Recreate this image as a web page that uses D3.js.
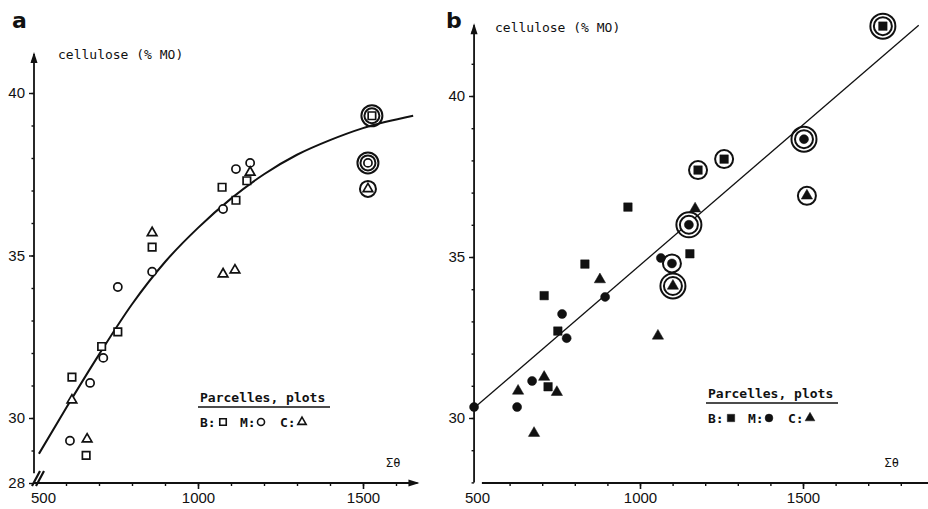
<!DOCTYPE html>
<html>
<head>
<meta charset="utf-8">
<script src="https://cdn.jsdelivr.net/npm/d3@7"></script>
<style>
  body { margin: 0; background: #fff; }
  text { fill: #111; }
  .tick text { font-family: "Liberation Sans Narrow", "Liberation Sans", sans-serif; font-size: 15px; }
  .mono { font-family: "DejaVu Sans Mono", monospace; font-size: 13px; }
</style>
</head>
<body>
<div class="canvas"></div>
<script>
// [sum theta, cellulose %, number of rings drawn round the point]
// panel a : open symbols
const aPlotB = [[1527, 39.3, 2], [1148, 37.3, 0], [1073, 37.1, 0], [1115, 36.7, 0], [861, 35.26, 0],
                [757, 32.65, 0], [708, 32.2, 0], [618, 31.26, 0], [661, 28.85, 0]]
const aPlotM = [[1515, 37.85, 2], [1115, 37.66, 0], [1158, 37.85, 0], [1076, 36.43, 0], [861, 34.5, 0],
                [757, 34.03, 0], [713, 31.85, 0], [673, 31.08, 0], [612, 29.3, 0]]
const aPlotC = [[1515, 37.05, 1], [1158, 37.56, 0], [861, 35.7, 0], [1076, 34.43, 0], [1112, 34.55, 0],
                [618, 30.55, 0], [664, 29.35, 0]]
// fitted curve of panel a
const aCurveX = [518, 600, 700, 800, 900, 1000, 1100, 1200, 1300, 1400, 1500, 1652]
const aCurveY = [28.9, 30.3, 31.95, 33.5, 34.8, 35.85, 36.75, 37.5, 38.1, 38.55, 38.92, 39.3]

// panel b : filled symbols
const bPlotB = [[1745, 42.17, 2], [1178, 37.7, 1], [1258, 38.04, 1], [963, 36.55, 0], [1153, 35.1, 0],
                [831, 34.78, 0], [706, 33.8, 0], [748, 32.7, 0], [718, 30.97, 0]]
const bPlotM = [[1503, 38.66, 2], [1150, 36.0, 2], [1098, 34.8, 1], [1064, 34.97, 0], [893, 33.76, 0],
                [761, 33.23, 0], [775, 32.48, 0], [669, 31.15, 0], [491, 30.34, 0], [623, 30.34, 0]]
const bPlotC = [[1512, 36.9, 1], [1101, 34.1, 2], [1169, 36.5, 0], [877, 34.3, 0], [1055, 32.55, 0],
                [706, 31.27, 0], [626, 30.84, 0], [745, 30.8, 0], [675, 29.53, 0]]
// regression line of panel b
const bLineX = [490, 1855]
const bLineY = [30.3, 42.2]

const yMajorA = [28, 30, 35, 40]
const yMajorB = [30, 35, 40]
const xMajor = [500, 1000, 1500]

const svg = d3.select('.canvas').append('svg')
    .attr('width', 928)
    .attr('height', 509)

svg.append('rect').attr('width', 928).attr('height', 509).attr('fill', '#fff')

const xA = d3.scaleLinear().domain([500, 1500]).range([33, 363])
const yA = d3.scaleLinear().domain([28, 40]).range([483, 93])
const xB = d3.scaleLinear().domain([500, 1500]).range([477, 803])
const yB = d3.scaleLinear().domain([30, 40]).range([418, 96])

function arrowUp(g, x, y) {
    g.append('path').attr('d', `M${x},${y} L${x - 3.5},${y + 11} L${x + 3.5},${y + 11} Z`).attr('fill', '#111')
}
function arrowRight(g, x, y) {
    g.append('path').attr('d', `M${x},${y} L${x - 11},${y - 3.5} L${x - 11},${y + 3.5} Z`).attr('fill', '#111')
}

function drawAxes(x, y, opt) {
    const g = svg.append('g')
    const ax = opt.yAxisX

    // y axis line + arrow
    g.append('line')
        .attr('x1', ax).attr('x2', ax)
        .attr('y1', y(opt.yLow)).attr('y2', y(opt.yTop))
        .attr('stroke', '#111').attr('stroke-width', 1.8)
    arrowUp(g, ax, y(opt.yTop) - 2)

    // y ticks
    const yMinor = d3.range(Math.ceil(opt.yLow), Math.floor(opt.yTop) + 1)
    g.append('g')
        .attr('transform', `translate(${ax},0)`)
        .call(d3.axisLeft(y).tickValues(yMinor).tickSize(2.5).tickFormat(''))
        .call((s) => s.select('.domain').remove())
        .selectAll('line').attr('stroke', '#111').attr('stroke-width', 1.4)
    g.append('g')
        .attr('transform', `translate(${ax},0)`)
        .call(d3.axisLeft(y).tickValues(opt.yMajor).tickSize(5).tickPadding(4).tickFormat(d3.format('d')))
        .call((s) => s.select('.domain').remove())
        .call((s) => s.selectAll('line').attr('stroke', '#111').attr('stroke-width', 1.4))

    // x axis
    const ay = opt.xAxisY
    g.append('line')
        .attr('x1', x(opt.xLow)).attr('x2', x(opt.xTop))
        .attr('y1', ay).attr('y2', ay)
        .attr('stroke', '#111').attr('stroke-width', 1.8)
    if (opt.xArrow) arrowRight(g, x(opt.xTop) + 2, ay)

    const xMinor = d3.range(600, opt.xTop, 100)
    g.append('g')
        .attr('transform', `translate(0,${ay})`)
        .call(d3.axisBottom(x).tickValues(xMinor).tickSize(3).tickFormat(''))
        .call((s) => s.select('.domain').remove())
        .selectAll('line').attr('stroke', '#111').attr('stroke-width', 1.4)
    const xa = g.append('g')
        .attr('transform', `translate(0,${ay})`)
        .call(d3.axisBottom(x).tickValues(xMajor).tickSize(6).tickPadding(3).tickFormat(d3.format('d')))
        .call((s) => s.select('.domain').remove())
        .call((s) => s.selectAll('line').attr('stroke', '#111').attr('stroke-width', 1.6))
    xa.selectAll('.tick').filter((d) => d === 500).select('line').remove()
    xa.selectAll('.tick').filter((d) => d === 500).select('text').attr('dx', opt.x500dx)

    // labels
    g.append('text').attr('class', 'mono')
        .attr('x', opt.titleX).attr('y', opt.titleY)
        .text('cellulose (% MO)')
    g.append('text').attr('class', 'mono')
        .attr('x', opt.sigmaX).attr('y', ay - 16)
        .style('font-size', '12px')
        .text('Σθ')
    g.append('text')
        .attr('x', opt.letterX).attr('y', 28)
        .style('font-family', '"DejaVu Sans", sans-serif')
        .style('font-weight', 900).style('font-size', '22px')
        .text(opt.letter)
    return g
}

function drawPoints(g, data, x, y, type, filled, size, rings) {
    const sym = d3.symbol().type(type).size(size)
    const pts = g.append('g').selectAll('g')
        .data(data)
        .enter()
        .append('g')
        .attr('transform', (d) => `translate(${x(d[0])},${y(d[1])})`)
    pts.filter((d) => d[2] > 0).append('circle')
        .attr('r', rings[0]).attr('fill', '#fff').attr('stroke', '#111').attr('stroke-width', 2)
    pts.filter((d) => d[2] > 1).append('circle')
        .attr('r', rings[1]).attr('fill', 'none').attr('stroke', '#111').attr('stroke-width', 2)
    pts.append('path')
        .attr('d', sym)
        .attr('fill', filled ? '#111' : '#fff')
        .attr('stroke', '#111')
        .attr('stroke-width', filled ? 0.5 : 1.7)
}

function drawLegend(g, x0, y0, filled, sizes) {
    g.append('text').attr('class', 'mono')
        .attr('x', x0).attr('y', y0)
        .style('font-weight', 'bold')
        .text('Parcelles, plots')
    g.append('line')
        .attr('x1', x0 - 2).attr('x2', x0 + 130)
        .attr('y1', y0 + 5).attr('y2', y0 + 5)
        .attr('stroke', '#111').attr('stroke-width', 1.4)
    const keys = [['B:', d3.symbolSquare, sizes[0], 23], ['M:', d3.symbolCircle, sizes[1], 21], ['C:', d3.symbolTriangle, sizes[2], 22]]
    keys.forEach((k, i) => {
        const lx = x0 + i * 40
        g.append('text').attr('class', 'mono')
            .attr('x', lx).attr('y', y0 + 25)
            .style('font-weight', 'bold')
            .text(k[0])
        g.append('path')
            .attr('transform', `translate(${lx + k[3]},${y0 + 20})`)
            .attr('d', d3.symbol().type(k[1]).size(k[2] * 0.75))
            .attr('fill', filled ? '#111' : '#fff')
            .attr('stroke', '#111')
            .attr('stroke-width', filled ? 0.5 : 1.6)
    })
}

// ---- panel a
const ga = drawAxes(xA, yA, {
    yAxisX: xA(500) + 1, yLow: 28.3, yTop: 41.2, yMajor: yMajorA,
    xAxisY: yA(28), xLow: 500, xTop: 1665, xArrow: true, x500dx: 10,
    titleX: 58, titleY: 59, sigmaX: xA(1570), letterX: 12, letter: 'a'
})
// axis break
ga.append('path')
    .attr('d', `M${xA(500) - 1},${yA(28) + 3} L${xA(500) + 7},${yA(28) - 12} M${xA(500) + 3},${yA(28) + 3} L${xA(500) + 11},${yA(28) - 12}`)
    .attr('stroke', '#111').attr('stroke-width', 2.2).attr('fill', 'none')

ga.append('path')
    .datum(d3.zip(aCurveX, aCurveY))
    .attr('d', d3.line().x((d) => xA(d[0])).y((d) => yA(d[1])).curve(d3.curveMonotoneX))
    .attr('fill', 'none').attr('stroke', '#111').attr('stroke-width', 2)

drawPoints(ga, aPlotB, xA, yA, d3.symbolSquare, false, 56, [7.5, 10.5])
drawPoints(ga, aPlotM, xA, yA, d3.symbolCircle, false, 52, [7.5, 10.5])
drawPoints(ga, aPlotC, xA, yA, d3.symbolTriangle, false, 40, [8, 10.5])
drawLegend(ga, 200, 402, false, [56, 52, 40])

// ---- panel b
const gb = drawAxes(xB, yB, {
    yAxisX: xB(491), yLow: 28, yTop: 42.2, yMajor: yMajorB,
    xAxisY: yA(28), xLow: 515, xTop: 1900, xArrow: false, x500dx: 0,
    titleX: 495, titleY: 32, sigmaX: xB(1750), letterX: 446, letter: 'b'
})

gb.append('line')
    .attr('x1', xB(bLineX[0])).attr('x2', xB(bLineX[1]))
    .attr('y1', yB(bLineY[0])).attr('y2', yB(bLineY[1]))
    .attr('stroke', '#111').attr('stroke-width', 1.3)

drawPoints(gb, bPlotB, xB, yB, d3.symbolSquare, true, 72, [9, 12.5])
drawPoints(gb, bPlotM, xB, yB, d3.symbolCircle, true, 64, [9, 12.5])
drawPoints(gb, bPlotC, xB, yB, d3.symbolTriangle, true, 55, [9, 12.5])
drawLegend(gb, 708, 398, true, [72, 64, 55])
</script>
</body>
</html>
